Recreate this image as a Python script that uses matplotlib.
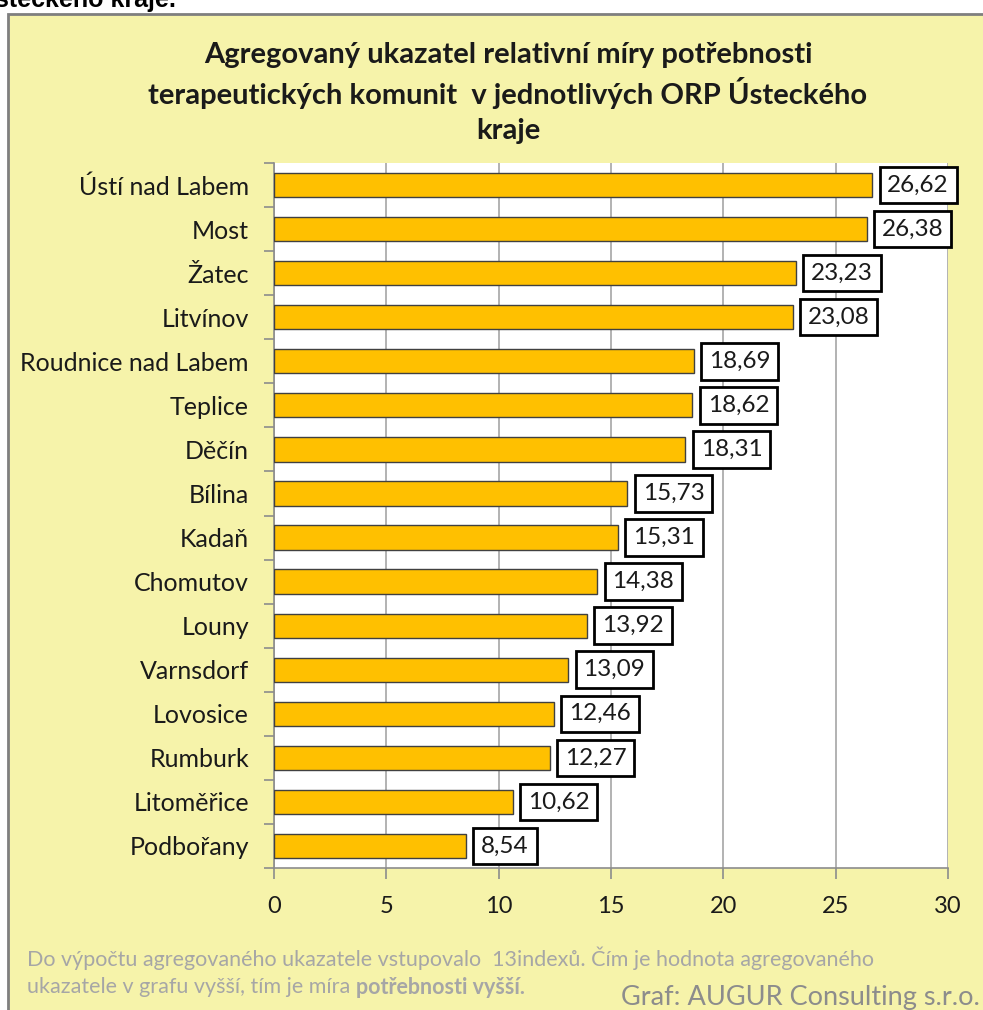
import matplotlib
matplotlib.use("Agg")
import matplotlib.pyplot as plt
from matplotlib.patches import Rectangle

# data
mesta = ["Ústí nad Labem", "Most", "Žatec", "Litvínov", "Roudnice nad Labem", "Teplice",
         "Děčín", "Bílina", "Kadaň", "Chomutov", "Louny", "Varnsdorf", "Lovosice",
         "Rumburk", "Litoměřice", "Podbořany"]
hodnoty = [26.62, 26.38, 23.23, 23.08, 18.69, 18.62, 18.31, 15.73, 15.31, 14.38,
           13.92, 13.09, 12.46, 12.27, 10.62, 8.54]
x_ticks = [0, 5, 10, 15, 20, 25, 30]

titulek = ["Agregovaný ukazatel relativní míry potřebnosti",
           "terapeutických komunit  v jednotlivých ORP Ústeckého",
           "kraje"]

plt.rcParams['font.family'] = ['Lato', 'DejaVu Sans']

W, H = 983, 1010
fig = plt.figure(figsize=(W / 100, H / 100), dpi=100)
fig.patch.set_facecolor('white')

# pozadi grafu (zluta plocha se sedym okrajem)
fig.patches.append(Rectangle((8 / W, -0.05), 1.2, (H - 14) / H + 0.05,
                             transform=fig.transFigure, facecolor='#F6F3AA',
                             edgecolor='#7F7F7F', linewidth=2, zorder=-5))

# useknuty text nad grafem
fig.text(176 / W, 1 - 7 / H, "Ústeckého kraje.", ha='right', va='baseline',
         fontsize=18, fontweight='bold', family=['Liberation Sans', 'DejaVu Sans'])

ax = fig.add_axes([274 / W, 1 - 868 / H, (948 - 274) / W, (868 - 163) / H])
ax.set_facecolor('white')

y = list(range(len(mesta)))
ax.barh(y, hodnoty, height=0.55, color='#FFC000', edgecolor='#404040', linewidth=1, zorder=3)

for i, v in zip(y, hodnoty):
    ax.annotate(f"{v:.2f}".replace('.', ','), xy=(v, i), xytext=(11, 0),
                textcoords='offset points', ha='left', va='center', fontsize=17.5,
                color='#1a1a1a', zorder=5,
                bbox=dict(boxstyle='square,pad=0.32', fc='white', ec='black', lw=2))

ax.set_xlim(0, 30)
ax.set_ylim(len(mesta) - 0.5, -0.5)
ax.set_xticks(x_ticks)
ax.set_xticklabels([str(t) for t in x_ticks], fontsize=17)
ax.set_yticks(y)
ax.set_yticklabels(mesta, fontsize=18)
ax.set_yticks([k - 0.5 for k in range(len(mesta) + 1)], minor=True)
ax.tick_params(axis='y', which='major', length=0, pad=18, colors='#1a1a1a')
ax.tick_params(axis='y', which='minor', length=7, color='#8C8C8C', width=1.2)
ax.tick_params(axis='x', length=8, width=1.2, pad=12, colors='#1a1a1a')
ax.tick_params(axis='x', color='#8C8C8C')

ax.grid(axis='x', color='#A6A6A6', linewidth=1.2, zorder=0)
ax.set_axisbelow(True)
for s in ['top', 'right']:
    ax.spines[s].set_visible(False)
for s in ['left', 'bottom']:
    ax.spines[s].set_color('#8C8C8C')
    ax.spines[s].set_linewidth(1.2)

# titulek po radcich
for k, radek in enumerate(titulek):
    fig.text(508 / W, 1 - (55 + 38 * k) / H, radek, ha='center', va='center',
             fontsize=21, fontweight='bold', color='#1a1a1a')

# poznamka pod grafem
seda = '#A6A6A6'
fig.text(27 / W, 1 - 958 / H,
         "Do výpočtu agregovaného ukazatele vstupovalo  13indexů. Čím je hodnota agregovaného",
         ha='left', va='center', fontsize=15.5, color=seda)
t1 = fig.text(27 / W, 1 - 987 / H, "ukazatele v grafu vyšší, tím je míra ",
              ha='left', va='center', fontsize=15.5, color=seda)
fig.canvas.draw()
bb = t1.get_window_extent()
fig.text(bb.x1 / W, 1 - 987 / H, "potřebnosti vyšší.", ha='left', va='center',
         fontsize=15.5, color=seda, fontweight='bold')
fig.text(980 / W, 1 - 997 / H, "Graf: AUGUR Consulting s.r.o.", ha='right', va='center',
         fontsize=19.5, color='#8C8C8C')

fig.savefig("out.png", dpi=100)
